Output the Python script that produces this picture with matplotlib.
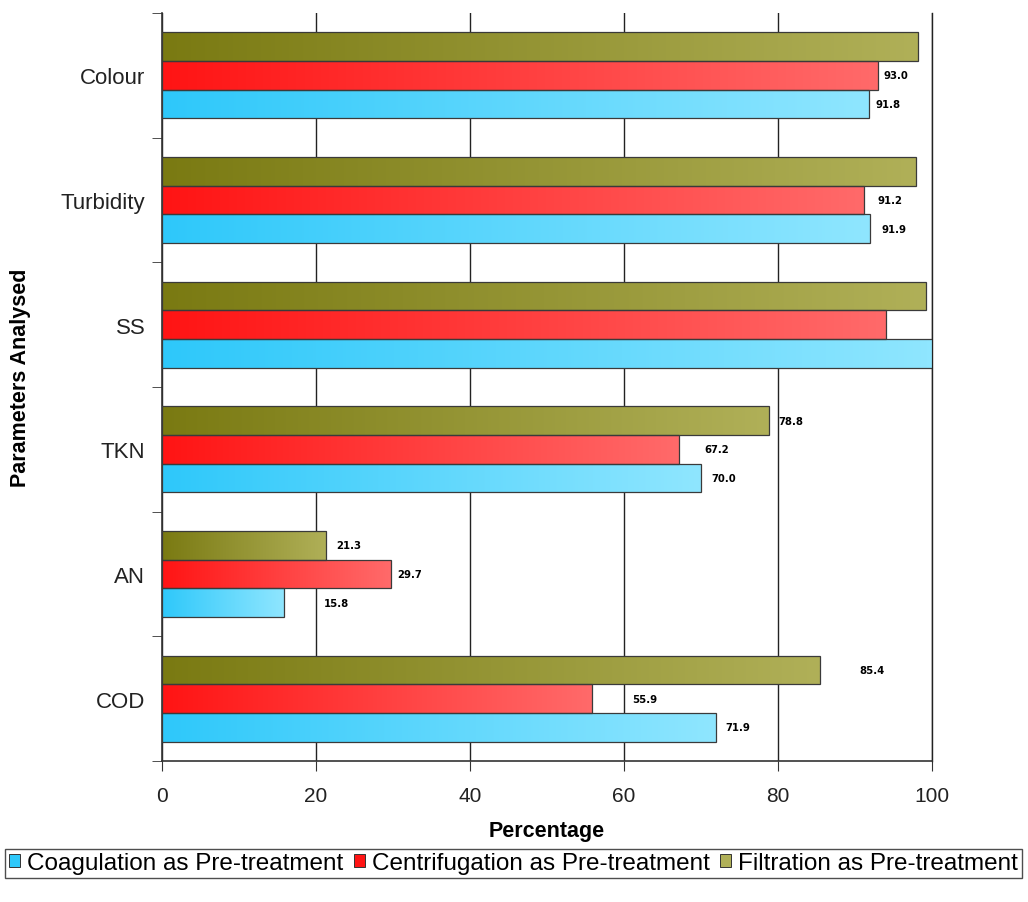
import numpy as np
import matplotlib
matplotlib.use("Agg")
import matplotlib.pyplot as plt
from matplotlib.colors import LinearSegmentedColormap
from matplotlib.patches import Patch

plt.rcParams['font.family'] = ['Liberation Sans', 'DejaVu Sans']

# Parameters (top to bottom)
categories = ["Colour", "Turbidity", "SS", "TKN", "AN", "COD"]
series_names = ["Coagulation as Pre-treatment",
                "Centrifugation as Pre-treatment",
                "Filtration as Pre-treatment"]
coagulation = [91.8, 91.9, 100.0, 70.0, 15.8, 71.9]
centrifugation = [93.0, 91.2, 94.0, 67.2, 29.7, 55.9]
filtration = [98.2, 97.9, 99.2, 78.8, 21.3, 85.4]
# which bars carry a printed value
show_coag = [True, True, False, True, True, True]
show_cent = [True, True, False, True, True, True]
show_filt = [False, False, False, True, True, True]
x_ticks = [0, 20, 40, 60, 80, 100]

# label offsets in pixels (right of bar end)
off_coag = [7, 12, 0, 10, 40, 10]
off_cent = [5, 13, 0, 25, 7, 40]
off_filt = [0, 0, 0, 10, 10, 40]

gradients = {
    "coag": ("#2ec8fa", "#8fe6ff"),
    "cent": ("#ff1414", "#ff6a6a"),
    "filt": ("#7a7a12", "#b0b058"),
}

fig = plt.figure(figsize=(10.28, 9.03), dpi=100)
ax = fig.add_axes([162 / 1028, 1 - 762 / 903, 770 / 1028, 748 / 903])

pos = np.arange(len(categories))
h = 0.23
spec = [
    ("filt", filtration, -h, show_filt, off_filt),
    ("cent", centrifugation, 0.0, show_cent, off_cent),
    ("coag", coagulation, h, show_coag, off_coag),
]

grad = np.linspace(0, 1, 256).reshape(1, -1)
for key, vals, dy, shows, offs in spec:
    cmap = LinearSegmentedColormap.from_list(key, list(gradients[key]))
    bars = ax.barh(pos + dy, vals, height=h, facecolor="none",
                   edgecolor="#3a3a3a", linewidth=0.9, zorder=4)
    for bar, v, s, o in zip(bars, vals, shows, offs):
        x0, y0 = bar.get_x(), bar.get_y()
        w, hh = bar.get_width(), bar.get_height()
        im = ax.imshow(grad, cmap=cmap, aspect="auto",
                       extent=(x0, x0 + w, y0 + hh, y0), zorder=3,
                       interpolation="bilinear")
        im.set_clip_path(bar)
        if s:
            ax.annotate(f"{v:.1f}", xy=(x0 + w, y0 + hh / 2),
                        xytext=(o * 0.72, 0), textcoords="offset points",
                        ha="left", va="center", fontsize=7.3,
                        fontweight="bold", family="DejaVu Sans", zorder=5)

ax.set_xlim(0, 100)
ax.set_ylim(len(categories) - 0.5, -0.5)
ax.set_xticks(x_ticks)
ax.set_xticklabels([str(t) for t in x_ticks], fontsize=15, color="#222222")
ax.set_yticks(pos)
ax.set_yticklabels(categories, fontsize=16, color="#222222")
ax.set_yticks(np.arange(-0.5, len(categories), 1.0), minor=True)
ax.tick_params(axis="y", which="major", length=0, pad=12)
ax.tick_params(axis="y", which="minor", length=7, direction="out",
               color="#333333")
ax.tick_params(axis="x", length=7, direction="out", color="#333333", pad=11)

ax.grid(axis="x", color="#222222", linewidth=1.0, zorder=1)
ax.axvline(100, color="#222222", linewidth=1.0, zorder=1, clip_on=False)
ax.set_axisbelow(True)
for side in ("top", "right"):
    ax.spines[side].set_visible(False)
for side in ("left", "bottom"):
    ax.spines[side].set_color("#333333")
    ax.spines[side].set_linewidth(1.2)

ax.set_xlabel("Percentage", fontsize=15.5, fontweight="bold", labelpad=11)
fig.text(21 / 1028, 1 - 378 / 903, "Parameters Analysed", rotation=90,
         ha="center", va="center", fontsize=15.5, fontweight="bold")

handles = [
    Patch(facecolor=gradients["coag"][0], edgecolor="#333333", linewidth=0.7),
    Patch(facecolor=gradients["cent"][0], edgecolor="#333333", linewidth=0.7),
    Patch(facecolor=gradients["filt"][1], edgecolor="#333333", linewidth=0.7),
]
leg = fig.legend(handles, series_names, loc="lower left", ncol=3,
                 bbox_to_anchor=(5 / 1028, 1 - 879 / 903, 1017 / 1028, 37 / 903),
                 mode="expand", fontsize=17.5, frameon=True, fancybox=False,
                 handlelength=0.45, handleheight=0.45, handletextpad=0.3,
                 columnspacing=0.3, borderaxespad=0, borderpad=0.15)
leg.get_frame().set_edgecolor("#222222")
leg.get_frame().set_linewidth(1.0)

fig.savefig("out.png", dpi=100)
